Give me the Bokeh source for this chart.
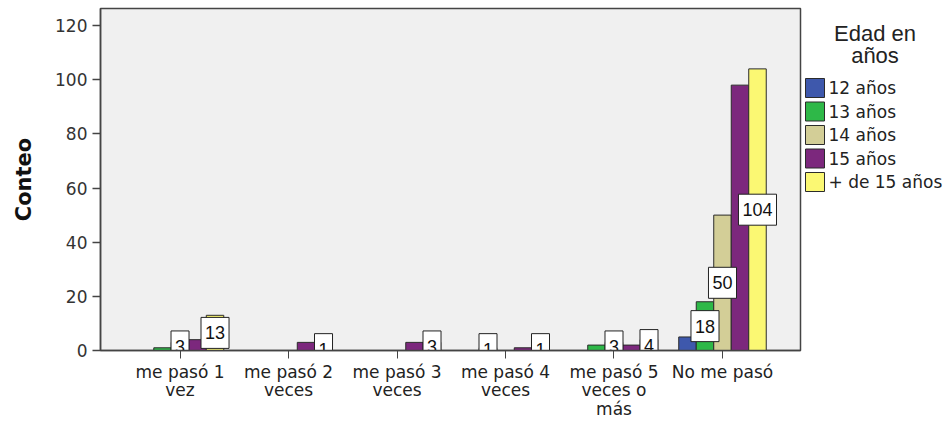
from bokeh.plotting import figure
from bokeh.layouts import row
from bokeh.models import ColumnDataSource, FixedTicker, Range1d
from bokeh.core.properties import value
from bokeh.embed import file_html
from bokeh.resources import INLINE

# Frequency of each answer, split by age group
categories = ["me pasó 1\nvez", "me pasó 2\nveces", "me pasó 3\nveces",
              "me pasó 4\nveces", "me pasó 5\nveces o\nmás", "No me pasó"]
age_groups = ["12 años", "13 años", "14 años", "15 años", "+ de 15 años"]
edad_12 = [0, 0, 0, 0, 0, 5]
edad_13 = [1, 0, 0, 1, 2, 18]
edad_14 = [3, 0, 0, 0, 3, 50]
edad_15 = [4, 3, 3, 1, 2, 98]
edad_mas_15 = [13, 1, 3, 1, 4, 104]
series = [edad_12, edad_13, edad_14, edad_15, edad_mas_15]
colors = ["#3E58AC", "#2EB848", "#D3CE97", "#7C287D", "#FBF873"]
legend_title = ["Edad en", "años"]

# bars that carry a value box: (category index, age group index)
labelled = [(0, 2), (0, 4), (1, 4), (2, 4), (3, 1), (3, 4),
            (4, 2), (4, 4), (5, 1), (5, 2), (5, 4)]

y_ticks = [0, 20, 40, 60, 80, 100, 120]

FONT = "DejaVu Sans"
BOX_FONT = "Liberation Sans"
bar_w = 0.1613
OUTLINE = "#2b2b2b"
TOP, BOTTOM = 8, 71

# ---- main chart -----------------------------------------------------------
p = figure(width=802, height=421, output_backend="svg", toolbar_location=None,
           x_range=Range1d(-0.733, 5.719), y_range=Range1d(0, 126.3),
           min_border_left=100, min_border_right=2, min_border_top=TOP,
           min_border_bottom=BOTTOM)
p.background_fill_color = "#F0F0F0"
p.border_fill_color = "white"
p.outline_line_color = "#444444"
p.outline_line_width = 1.5
p.grid.visible = False

for s, (vals, col) in enumerate(zip(series, colors)):
    xs = [i + (s - 2) * bar_w for i, v in enumerate(vals) if v > 0]
    ys = [v for v in vals if v > 0]
    p.vbar(x="x", top="top", width=bar_w, bottom=0,
           source=ColumnDataSource(dict(x=xs, top=ys)),
           fill_color=col, line_color=OUTLINE, line_width=1)

# value boxes centred at half the bar height
lx, ly, lt = [], [], []
for ci, si in labelled:
    v = series[si][ci]
    lx.append(ci + (si - 2) * bar_w)
    ly.append(v / 2)
    lt.append(str(v))
p.text(x="x", y="y", text="t",
       source=ColumnDataSource(dict(x=lx, y=ly, t=lt)),
       text_align="center", text_baseline="middle",
       text_font=value(BOX_FONT), text_font_size="18px", text_color="#111111",
       background_fill_color="white", border_line_color="#222222",
       border_line_width=1, padding=(4, 9))

p.yaxis.ticker = FixedTicker(ticks=y_ticks)
p.yaxis.axis_label = "Conteo"
p.yaxis.axis_label_text_font = FONT
p.yaxis.axis_label_text_font_style = "bold"
p.yaxis.axis_label_text_font_size = "21px"
p.yaxis.axis_label_text_color = "#111111"
p.yaxis.axis_label_standoff = 16
p.yaxis.major_label_text_font = FONT
p.yaxis.major_label_text_font_size = "17px"
p.yaxis.major_label_text_color = "#333333"
p.yaxis.major_tick_out = 8
p.yaxis.major_tick_in = 0
p.yaxis.minor_tick_out = 0
p.yaxis.minor_tick_in = 0
p.yaxis.axis_line_color = "#444444"
p.yaxis.axis_line_width = 1.5
p.yaxis.major_tick_line_color = "#444444"
p.yaxis.major_tick_line_width = 1.5
p.yaxis.major_label_standoff = 5

p.xaxis.ticker = FixedTicker(ticks=list(range(len(categories))))
p.xaxis.major_label_overrides = {i: c for i, c in enumerate(categories)}
p.xaxis.major_label_text_font = FONT
p.xaxis.major_label_text_font_size = "17px"
p.xaxis.major_label_text_color = "#222222"
p.xaxis.major_label_text_line_height = 0.935
p.xaxis.major_tick_out = 8
p.xaxis.major_tick_in = 0
p.xaxis.minor_tick_out = 0
p.xaxis.minor_tick_in = 0
p.xaxis.axis_line_color = "#444444"
p.xaxis.axis_line_width = 1.5
p.xaxis.major_tick_line_color = "#444444"
p.xaxis.major_label_standoff = 3

# ---- legend panel; its frame lines up with the chart's frame, so the
# ranges are expressed in page pixels (y grows downward) -----------------
lg = figure(width=143, height=421, output_backend="svg", toolbar_location=None,
            x_range=Range1d(802, 945), y_range=Range1d(421 - BOTTOM, TOP),
            x_axis_type=None, y_axis_type=None, min_border_left=0,
            min_border_right=0, min_border_top=TOP, min_border_bottom=BOTTOM)
lg.outline_line_color = None
lg.grid.visible = False
lg.background_fill_color = "white"
lg.border_fill_color = "white"

row_y = [87.5 + 23.5 * k for k in range(len(age_groups))]
lg.rect(x=814.5, y=row_y, width=19, height=19, fill_color=colors,
        line_color=OUTLINE, line_width=1)
lg.text(x=828, y=row_y, text=age_groups, text_align="left",
        text_baseline="middle", text_font=value(FONT),
        text_font_size="17px", text_color="#222222")
lg.text(x=874.5, y=[33, 55], text=legend_title, text_align="center",
        text_baseline="middle", text_font=value(BOX_FONT),
        text_font_size="22px", text_color="#222222")

open("out.html", "w").write(file_html(row(p, lg), INLINE))
